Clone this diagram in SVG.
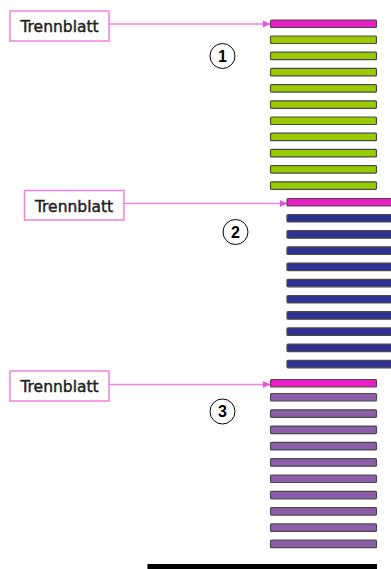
<svg xmlns="http://www.w3.org/2000/svg" width="391" height="569" viewBox="0 0 391 569">
<defs>
<style>
.lbl{fill:#fff;stroke:#f27fe3;stroke-width:1.5}
.lt{font-family:"DejaVu Sans",sans-serif;font-size:15.5px;fill:#222;stroke:#222;stroke-width:0.45;text-anchor:middle}
.con{stroke:#f27fe3;stroke-width:1.5;fill:none}
.bar{stroke:#4a4a4a;stroke-width:1.2}
.sep{fill:#e91ec4}
.g{fill:#99cc00}
.b{fill:#2e3192}
.p{fill:#8d5ea8}
.num{fill:#fff;stroke:#000;stroke-width:1}
.nt{font-family:"Liberation Sans",sans-serif;font-weight:bold;font-size:16px;fill:#000;text-anchor:middle}
</style>
<marker id="ah" viewBox="0 0 10 10" refX="10" refY="5" markerWidth="5" markerHeight="5" orient="auto" markerUnits="strokeWidth">
<path d="M0,0 L10,5 L0,10 z" fill="#f04fd8"/>
</marker>
</defs>
<rect width="391" height="569" fill="#fff"/>
<g id="connectors">
<line class="con" x1="109" y1="24" x2="270" y2="24" marker-end="url(#ah)"/>
<line class="con" x1="124" y1="203.5" x2="287" y2="203.5" marker-end="url(#ah)"/>
<line class="con" x1="109" y1="384.5" x2="270" y2="384.5" marker-end="url(#ah)"/>
</g>
<g id="label1"><rect class="lbl" x="10" y="11" width="99" height="30"/><text class="lt" x="59.5" y="32">Trennblatt</text></g>
<g id="label2"><rect class="lbl" x="24.5" y="190.5" width="99.5" height="29.5"/><text class="lt" x="74" y="211.5">Trennblatt</text></g>
<g id="label3"><rect class="lbl" x="10" y="371" width="99" height="30"/><text class="lt" x="59.5" y="392">Trennblatt</text></g>
<g id="stack1">
<rect class="bar sep" x="270.5" y="20" width="106" height="7.5" rx="1"/>
<rect class="bar g" x="270.5" y="36" width="106" height="7.5" rx="1"/>
<rect class="bar g" x="270.5" y="52.2" width="106" height="7.5" rx="1"/>
<rect class="bar g" x="270.5" y="68.4" width="106" height="7.5" rx="1"/>
<rect class="bar g" x="270.5" y="84.6" width="106" height="7.5" rx="1"/>
<rect class="bar g" x="270.5" y="100.8" width="106" height="7.5" rx="1"/>
<rect class="bar g" x="270.5" y="117" width="106" height="7.5" rx="1"/>
<rect class="bar g" x="270.5" y="133.2" width="106" height="7.5" rx="1"/>
<rect class="bar g" x="270.5" y="149.4" width="106" height="7.5" rx="1"/>
<rect class="bar g" x="270.5" y="165.6" width="106" height="7.5" rx="1"/>
<rect class="bar g" x="270.5" y="181.8" width="106" height="7.5" rx="1"/>
</g>
<g id="stack2">
<rect class="bar sep" x="287" y="198.5" width="108" height="7.5" rx="1"/>
<rect class="bar b" x="287" y="214.5" width="108" height="7.5" rx="1"/>
<rect class="bar b" x="287" y="230.7" width="108" height="7.5" rx="1"/>
<rect class="bar b" x="287" y="246.9" width="108" height="7.5" rx="1"/>
<rect class="bar b" x="287" y="263.1" width="108" height="7.5" rx="1"/>
<rect class="bar b" x="287" y="279.3" width="108" height="7.5" rx="1"/>
<rect class="bar b" x="287" y="295.5" width="108" height="7.5" rx="1"/>
<rect class="bar b" x="287" y="311.7" width="108" height="7.5" rx="1"/>
<rect class="bar b" x="287" y="327.9" width="108" height="7.5" rx="1"/>
<rect class="bar b" x="287" y="344.1" width="108" height="7.5" rx="1"/>
<rect class="bar b" x="287" y="360.3" width="108" height="7.5" rx="1"/>
</g>
<g id="stack3">
<rect class="bar sep" x="270.5" y="379.5" width="106" height="7.5" rx="1"/>
<rect class="bar p" x="270.5" y="393.5" width="106" height="7.5" rx="1"/>
<rect class="bar p" x="270.5" y="409.8" width="106" height="7.5" rx="1"/>
<rect class="bar p" x="270.5" y="426.1" width="106" height="7.5" rx="1"/>
<rect class="bar p" x="270.5" y="442.4" width="106" height="7.5" rx="1"/>
<rect class="bar p" x="270.5" y="458.7" width="106" height="7.5" rx="1"/>
<rect class="bar p" x="270.5" y="475" width="106" height="7.5" rx="1"/>
<rect class="bar p" x="270.5" y="491.3" width="106" height="7.5" rx="1"/>
<rect class="bar p" x="270.5" y="507.6" width="106" height="7.5" rx="1"/>
<rect class="bar p" x="270.5" y="523.9" width="106" height="7.5" rx="1"/>
<rect class="bar p" x="270.5" y="540.2" width="106" height="7.5" rx="1"/>
</g>
<g id="num1"><circle class="num" cx="222.5" cy="56" r="12.5"/><text class="nt" x="222.5" y="61.8">1</text></g>
<g id="num2"><circle class="num" cx="235.5" cy="232" r="12.5"/><text class="nt" x="235.5" y="237.8">2</text></g>
<g id="num3"><circle class="num" cx="222.5" cy="411.5" r="12.5"/><text class="nt" x="222.5" y="417.3">3</text></g>
<g id="base"><rect x="147.5" y="564" width="229.5" height="6" fill="#000"/></g>
</svg>
